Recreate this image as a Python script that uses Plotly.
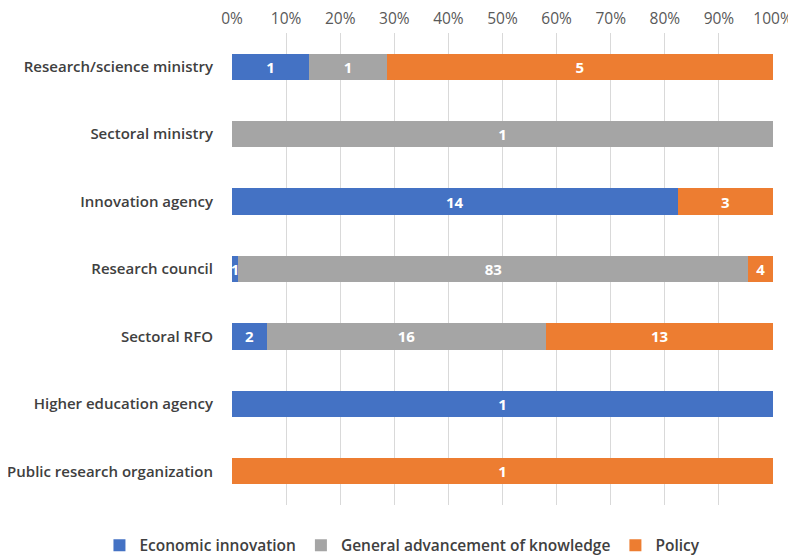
import plotly.graph_objects as go

categories = ["Research/science ministry", "Sectoral ministry", "Innovation agency",
              "Research council", "Sectoral RFO", "Higher education agency",
              "Public research organization"]
economic = [1, 0, 14, 1, 2, 1, 0]
knowledge = [1, 1, 0, 83, 16, 0, 0]
policy = [5, 0, 3, 4, 13, 0, 1]
tick_vals = [0, 10, 20, 30, 40, 50, 60, 70, 80, 90, 100]
tick_text = [f"{v}%" for v in tick_vals]

series = [
    ("Economic innovation", economic, "#4472C4"),
    ("General advancement of knowledge", knowledge, "#A5A5A5"),
    ("Policy", policy, "#ED7D31"),
]

fig = go.Figure()
for name, vals, color in series:
    fig.add_trace(go.Bar(
        y=categories, x=vals, name=name, orientation="h",
        marker=dict(color=color, line=dict(width=0)),
        text=[str(v) if v else "" for v in vals],
        textposition="inside", insidetextanchor="middle", textangle=0,
        textfont=dict(color="white", size=15, family="Open Sans", weight=700),
        hoverinfo="skip",
    ))

fig.update_layout(
    barmode="stack", barnorm="percent", bargap=0.61,
    width=796, height=555,
    margin=dict(l=224, r=31, t=25, b=58, autoexpand=False),
    plot_bgcolor="white", paper_bgcolor="white",
    font=dict(family="Open Sans", color="#404040", size=15),
    uniformtext=dict(minsize=15, mode="show"),
    legend=dict(orientation="h", x=-0.245, xanchor="left", y=-0.05, yanchor="top",
                font=dict(size=15.5, color="#404040", weight=600),
                traceorder="normal", itemwidth=30),
    showlegend=True,
)
fig.update_xaxes(side="top", range=[0, 100], tickvals=tick_vals, ticktext=tick_text,
                 showgrid=True, gridcolor="#D9D9D9", gridwidth=1, zeroline=False,
                 tickfont=dict(size=15.5, color="#595959"), ticks="", showline=False,
                 ticklabelstandoff=5)
fig.update_yaxes(autorange="reversed", showgrid=False, ticks="", ticklabelstandoff=18,
                 tickfont=dict(size=15, color="#404040", weight=600))

fig.write_html("out.html")
